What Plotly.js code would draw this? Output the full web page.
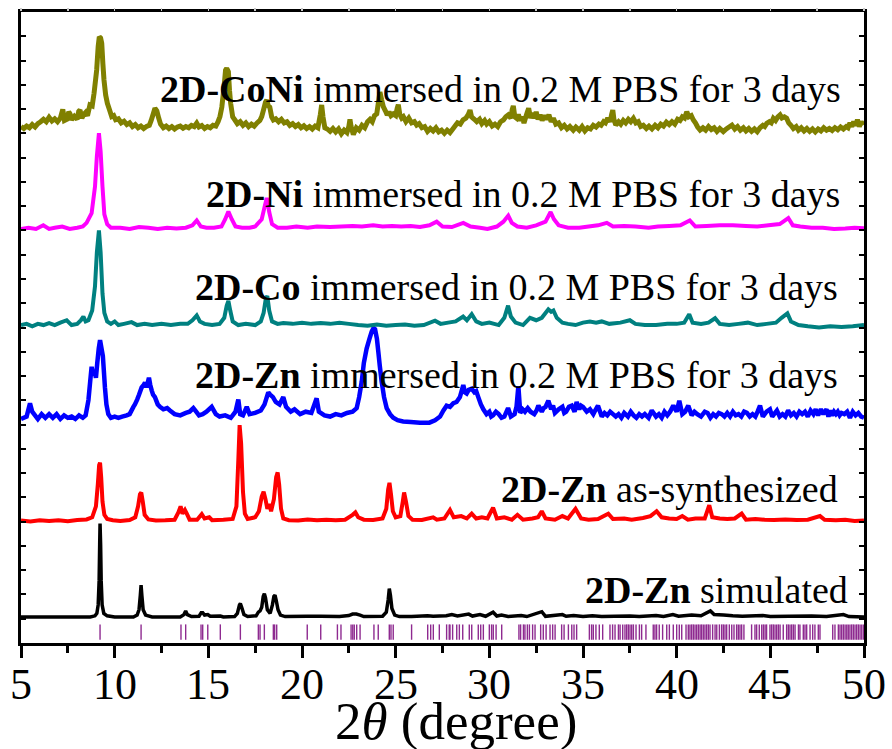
<!DOCTYPE html>
<html>
<head>
<meta charset="utf-8">
<script src="https://cdn.plot.ly/plotly-3.0.1.min.js"></script>
<style>html,body{margin:0;padding:0;background:#fff;}#chart{width:892px;height:749px;}</style>
</head>
<body>
<div id="chart"></div>
<script>
// ---- data (2theta in degrees, relative intensity) ----
const simX = [5,8.7,8.95,9.05,9.12,9.17,9.2,9.22,9.25,9.28,9.33,9.42,9.6,10.0,11.0,11.2,11.3,11.37,11.41,11.45,11.52,11.65,12.0,13.5,13.7,13.79,13.88,14.1,14.5,14.62,14.7,14.8,14.97,15.1,15.64,15.8,16.4,16.55,16.66,16.71,16.78,16.9,17.1,17.55,17.67,17.76,17.85,17.93,17.99,18.05,18.15,18.3,18.42,18.5,18.56,18.62,18.72,18.85,19.1,20.28,21.0,22.0,22.5,22.7,22.9,23.1,23.3,24.3,24.5,24.6,24.66,24.72,24.8,24.95,25.2,25.85,26.7,27.0,27.7,28.0,28.3,28.9,29.1,29.5,29.8,30.2,30.4,30.65,31.0,31.7,32.0,32.8,33.0,33.9,34.1,34.5,35.0,35.5,36.0,36.7,37.5,38.0,38.9,39.3,39.8,40.1,40.8,41.3,41.8,42.0,42.5,43.0,43.5,44.6,45.0,46.0,47.2,48.0,48.9,49.2,50];
const simY = [0,0,0.05,0.15,0.5,1.5,3.0,3.85,3.0,1.5,0.5,0.15,0.05,0,0,0.08,0.3,0.9,1.31,0.9,0.3,0.08,0,0,0.1,0.25,0.1,0.02,0.03,0.18,0.18,0.08,0.1,0.03,0.04,0,0.02,0.15,0.5,0.55,0.4,0.1,0.02,0.05,0.2,0.25,0.4,0.85,0.96,0.8,0.3,0.15,0.5,0.85,0.9,0.7,0.3,0.08,0.02,0.03,0.03,0.02,0.06,0.12,0.12,0.08,0.02,0.03,0.2,0.7,1.17,0.9,0.35,0.08,0.02,0.02,0.05,0.03,0.05,0.1,0.04,0.12,0.04,0.1,0.03,0.2,0.04,0.08,0.02,0.06,0.02,0.22,0.03,0.1,0.03,0.06,0.02,0.05,0.02,0.03,0.04,0.02,0.06,0.02,0.1,0.03,0.08,0.05,0.25,0.1,0.08,0.05,0.03,0.06,0.02,0.03,0.04,0.02,0.1,0.02,0];

const synX = [5,5.5,6.0,6.5,7.0,7.5,8.0,8.5,8.8,9.0,9.1,9.17,9.22,9.28,9.35,9.45,9.6,9.9,10.3,10.8,11.1,11.25,11.35,11.42,11.5,11.6,11.8,12.2,12.7,13.2,13.4,13.52,13.62,13.75,13.85,14.0,14.4,14.65,14.8,15.05,15.2,15.8,16.3,16.5,16.6,16.67,16.75,16.85,16.95,17.1,17.5,17.7,17.85,17.95,18.05,18.15,18.25,18.35,18.5,18.62,18.7,18.78,18.88,19.0,19.3,19.8,20.3,20.8,21.3,21.8,22.3,22.7,22.85,23.0,23.3,23.8,24.3,24.5,24.6,24.67,24.75,24.85,25.0,25.25,25.38,25.45,25.55,25.68,25.9,26.4,27.0,27.2,27.6,27.9,28.1,28.5,28.8,29.06,29.3,29.6,29.9,30.2,30.4,30.8,31.2,31.5,31.8,32.3,32.6,32.8,33.0,33.5,33.9,34.2,34.6,34.9,35.3,35.8,36.35,36.6,37.2,37.6,38.2,38.6,38.93,39.2,39.6,40.0,40.3,40.6,41.0,41.5,41.74,41.9,42.3,42.7,43.1,43.47,43.7,44.2,44.7,45.2,45.8,46.4,47.0,47.65,47.9,48.5,49.0,49.5,50];
const synY = [0.02,-0.02,0.03,0,0.03,-0.01,0.04,0.06,0.15,0.6,1.5,2.3,2.4,1.8,0.8,0.25,0.08,0.03,0,0.04,0.15,0.6,1.1,1.17,0.8,0.25,0.06,0.02,0.03,0.05,0.35,0.6,0.3,0.45,0.3,0.05,0.05,0.28,0.1,0.15,0.03,0.05,0.08,0.6,2.5,3.95,3.2,1.2,0.3,0.08,0.15,0.4,1.0,1.2,0.9,0.5,0.7,0.4,0.9,1.8,2.0,1.5,0.5,0.1,0.03,0.02,0.06,0.03,0.05,0.03,0.05,0.25,0.35,0.15,0.05,0.04,0.1,0.5,1.3,1.57,1.1,0.4,0.15,0.2,0.8,1.17,0.8,0.2,0.05,0.04,0.15,0.05,0.1,0.45,0.15,0.2,0.1,0.3,0.1,0.15,0.1,0.55,0.1,0.15,0.05,0.25,0.05,0.1,0.15,0.4,0.1,0.05,0.2,0.1,0.5,0.1,0.05,0.08,0.3,0.08,0.1,0.05,0.12,0.2,0.4,0.15,0.1,0.08,0.2,0.05,0.1,0.1,0.65,0.15,0.1,0.08,0.1,0.3,0.05,0.08,0.05,0.04,0.06,0.04,0.05,0.2,0.05,0.03,0.05,0,0.02];

const znX = [5.0,5.3,5.48,5.6,5.75,5.9,6.1,6.3,6.5,6.7, 6.9,7.1,7.3,7.5,7.7,7.9,8.1,8.3,8.45,8.6, 8.7,8.77,8.85,8.92,9.0,9.07,9.15,9.22,9.3,9.37, 9.43,9.48,9.56,9.66,9.8,10.0,10.2,10.4,10.64,10.8,
  11.0,11.08,11.2,11.3,11.44,11.55,11.62,11.7,11.83,11.9, 11.98,12.05,12.15,12.3,12.42,12.6,12.8,12.95,13.2,13.5, 13.8,14.0,14.2,14.35,14.5,14.7,14.9,15.18,15.4,15.6, 15.9,16.2,16.45,16.6,16.7,16.85,17.05,17.2,17.5,17.8,
  18.0,18.2,18.3,18.45,18.6,18.8,19.0,19.15,19.4,19.6, 19.9,20.2,20.5,20.78,20.9,21.2,21.5,21.8,22.1,22.4, 22.7,22.92,23.05,23.19,23.3,23.45,23.6,23.72,23.82,23.9, 24.0,24.07,24.15,24.25,24.38,24.52,24.7,24.87,25.1,25.4,
  25.8,26.3,26.8,27.1,27.37,27.55,27.72,27.9,28.08,28.25, 28.43,28.61,28.7,28.79,28.9,29.06,29.2,29.3,29.41,29.55, 29.68,29.85,
  30.0,30.1,30.2,30.35,30.5,30.65,30.8,31.0,31.15,31.35, 31.45,31.55,31.65,31.78,31.9,32.05,32.2,32.4,32.52,32.62, 32.8,32.9,33.0,33.15,33.3,33.4,33.5,33.7,33.9,34.0,
  34.1,34.25,34.4,34.55,34.66,34.8,34.9,35.0,35.2,35.37, 35.55,35.65,35.8,36.0,36.15,36.3,36.45,36.6,36.75,36.9, 37.05,37.2,37.4,37.55,37.7,37.85,38.0,38.15,38.3,38.5,
  38.67,38.9,39.05,39.2,39.35,39.5,39.65,39.82,40.0,40.14, 40.3,40.45,40.62,40.8,40.95,41.1,41.3,41.5,41.65,41.8, 41.95,42.1,42.25,42.4,42.55,42.7,42.85,43.0,43.15,43.3,
  43.45,43.6,43.75,43.9,44.05,44.2,44.32,44.45,44.6,44.8, 44.98,45.1,45.2,45.35,45.5,45.65,45.8,45.95,46.1,46.25, 46.4,46.55,46.7,46.85,47.0,47.15,47.3,47.42,47.55,47.7,
  47.83,48.0,48.1,48.2,48.3,48.4,48.5,48.6,48.7,48.8, 48.95,49.1,49.25,49.4,49.55,49.7,49.85,50];
const znY = [0.0,0.1,0.65,0.3,0.15,0.0,0.2,0.05,0.2,0.05, 0.2,0.0,0.15,0.05,0.1,0.0,0.15,0.05,0.15,0.78, 1.6,2.15,1.8,2.0,1.7,2.3,2.9,3.25,2.9,2.6, 1.9,1.3,0.6,0.2,0.05,0.1,0.05,0.1,0.15,0.2,
  0.5,0.6,0.8,1.0,1.3,1.4,1.5,1.3,1.7,1.4, 1.17,1.0,0.9,0.6,0.5,0.4,0.45,0.35,0.2,0.15, 0.25,0.3,0.45,0.3,0.15,0.2,0.3,0.5,0.2,0.1, 0.15,0.05,0.3,0.8,0.2,0.15,0.5,0.2,0.25,0.35,
  0.6,1.1,1.0,0.9,0.7,0.6,0.9,0.5,0.3,0.4, 0.2,0.3,0.25,0.85,0.3,0.15,0.1,0.2,0.15,0.25, 0.3,0.45,0.9,1.55,2.3,2.9,3.3,3.6,3.75,3.7, 3.3,2.8,2.2,1.55,0.9,0.45,0.2,0.05,-0.05,-0.1,
  -0.12,-0.15,-0.15,-0.05,0.1,0.35,0.55,0.5,0.65,0.7, 0.9,1.4,1.1,1.05,1.2,1.25,1.1,1.15,0.9,0.6, 0.4,0.2,
  0.3,0.1,0.15,0.3,0.2,0.05,0.1,0.45,0.1,0.2, 0.5,1.35,0.25,0.4,0.3,0.45,0.3,0.2,0.35,0.55, 0.3,0.45,0.5,0.75,0.4,0.55,0.25,0.4,0.5,0.25,
  0.3,0.5,0.55,0.3,0.7,0.4,0.55,0.5,0.3,0.4, 0.2,0.35,0.55,0.1,0.25,0.15,0.3,0.2,0.1,0.2, 0.05,0.25,0.1,0.3,0.15,0.05,0.2,0.1,0.2,0.05,
  0.35,0.1,0.2,0.05,0.3,0.15,0.3,0.55,0.3,0.75, 0.2,0.3,0.55,0.15,0.3,0.2,0.1,0.3,0.25,0.05, 0.2,0.1,0.25,0.2,0.1,0.25,0.1,0.3,0.15,0.2,
  0.1,0.3,0.25,0.1,0.2,0.1,0.3,0.55,0.1,0.3, 0.4,0.1,0.2,0.35,0.1,0.2,0.1,0.35,0.15,0.25, 0.1,0.3,0.2,0.3,0.1,0.35,0.2,0.4,0.15,0.4,
  0.2,0.4,0.1,0.35,0.15,0.3,0.2,0.3,0.15,0.25, 0.2,0.3,0.05,0.3,0.15,0.25,0.1,0.05];

const coX = [5.0,5.3,5.6,5.9,6.2,6.5,6.8,7.1,7.44,7.7,8.0,8.2,8.33,8.45,8.6,8.8,8.95,9.05,9.16,9.25,9.35,9.45,9.6,9.8,10.0,10.2,10.5,10.9,11.2,11.6,12.0,12.5,13.0,13.5,13.9,14.15,14.38,14.55,14.8,15.2,15.6,15.85,15.98,16.07,16.17,16.3,16.6,17.0,17.5,17.8,17.95,18.07,18.15,18.25,18.4,18.7,19.0,19.5,20.0,20.5,21.0,21.5,22.0,22.5,23.0,23.5,24.0,24.5,25.0,25.5,26.0,26.5,27.1,27.4,27.8,28.2,28.6,28.8,29.06,29.3,29.6,30.0,30.5,30.8,31.0,31.15,31.4,31.8,32.17,32.5,32.8,33.0,33.15,33.3,33.42,33.6,33.9,34.2,34.6,35.0,35.37,35.7,36.0,36.4,37.0,37.5,37.8,38.3,38.9,39.5,40.0,40.4,40.67,40.85,41.3,41.7,42.05,42.3,42.8,43.3,43.8,44.3,44.8,45.3,45.6,45.91,46.1,46.5,47.0,47.6,48.2,48.8,49.4,50];
const coY = [0.0,0.05,-0.05,0.05,0.0,0.08,0.0,0.1,0.2,0.0,0.05,0.2,0.35,0.15,0.2,0.6,1.6,3.0,3.9,3.0,1.3,0.5,0.15,0.05,0.15,0.0,0.05,0.12,0.0,0.05,0.0,0.05,0.0,0.05,0.05,0.2,0.4,0.15,0.05,0.0,0.05,0.3,0.8,1.0,0.6,0.15,0.0,0.05,0.0,0.15,0.5,1.1,1.2,0.6,0.15,0.05,0.08,0.05,0.1,0.05,0.08,0.05,0.1,0.05,0.0,-0.03,0.02,-0.03,0.0,0.02,-0.03,0.0,0.18,0.05,0.1,0.15,0.35,0.2,0.45,0.15,0.05,0.1,0.0,0.3,0.8,0.35,0.1,0.0,0.3,0.2,0.3,0.5,0.65,0.55,0.6,0.3,0.1,0.05,0.0,0.1,0.15,0.1,0.15,0.05,0.1,0.2,0.05,0.0,0.0,0.05,0.05,0.1,0.45,0.1,0.05,0.1,0.28,0.05,0.0,0.05,0.1,0.0,0.05,0.1,0.3,0.48,0.15,0.0,-0.05,-0.1,-0.05,-0.08,-0.05,0.0];

const niX = [5.0,5.4,5.8,6.19,6.5,6.8,7.2,7.6,8.0,8.3,8.5,8.77,8.95,9.05,9.16,9.25,9.35,9.45,9.6,9.8,10.3,10.8,11.3,11.8,12.3,12.8,13.3,13.8,14.15,14.38,14.6,14.9,15.3,15.7,15.9,16.07,16.25,16.45,16.8,17.2,17.5,17.85,18.0,18.12,18.25,18.4,18.7,19.2,19.7,20.3,20.8,21.5,22.1,22.7,23.2,23.8,24.3,24.8,25.3,25.8,26.3,26.8,27.19,27.5,28.0,28.61,29.0,29.5,29.9,30.4,30.75,31.01,31.2,31.5,32.0,32.5,33.0,33.27,33.45,33.7,34.2,34.8,35.3,35.8,36.27,36.6,37.2,37.8,38.5,39.0,39.6,40.2,40.7,41.0,41.6,42.3,43.0,43.7,44.3,44.9,45.5,45.96,46.2,46.6,47.2,47.8,48.4,49.0,49.5,50];
const niY = [0.0,0.05,0.0,0.15,0.0,0.05,0.1,0.0,0.05,0.1,0.25,0.65,1.75,3.0,3.95,3.2,1.75,0.6,0.2,0.05,0.05,0.0,0.08,0.05,0.0,0.05,0.02,0.05,0.15,0.35,0.1,0.05,0.05,0.1,0.4,0.72,0.4,0.1,0.05,0.05,0.1,0.4,0.9,1.28,0.7,0.2,0.05,0.05,0.1,0.05,0.1,0.08,0.1,0.12,0.1,0.15,0.1,0.12,0.1,0.12,0.08,0.15,0.3,0.1,0.08,0.25,0.1,0.05,0.0,0.1,0.3,0.55,0.25,0.1,0.05,0.15,0.3,0.7,0.4,0.15,0.05,0.05,0.1,0.15,0.25,0.1,0.12,0.1,0.05,0.1,0.12,0.15,0.35,0.1,0.12,0.15,0.15,0.12,0.1,0.15,0.2,0.45,0.15,0.1,0.05,0.05,0.0,0.02,0.05,0.03];

const coniX = [5.0,5.15,5.3,5.45,5.6,5.75,5.9,6.05,6.2,6.35,6.5,6.65,6.8,6.95,7.1,7.23,7.32,7.45,7.55,7.62,7.7,7.85,8.0,8.08,8.15,8.25,8.35,8.45,8.55,8.68,8.8,8.9,9.04,9.12,9.18,9.25,9.31,9.37,9.43,9.52,9.61,9.72,9.84,9.95,10.05,10.2,10.35,10.5,10.65,10.8,10.95,11.1,11.25,11.4,11.55,11.7,11.85,11.95,12.05,12.15,12.25,12.35,12.45,12.6,12.75,12.9,13.05,13.2,13.35,13.5,13.65,13.8,13.95,14.1,14.25,14.38,14.5,14.65,14.8,14.95,15.1,15.25,15.4,15.52,15.62,15.72,15.84,15.92,15.98,16.07,16.13,16.19,16.3,16.42,16.55,16.7,16.85,17.0,17.15,17.3,17.45,17.6,17.75,17.85,17.95,18.05,18.12,18.2,18.28,18.38,18.47,18.6,18.75,18.9,19.05,19.2,19.35,19.5,19.65,19.8,19.95,20.1,20.25,20.4,20.55,20.7,20.85,20.98,21.05,21.12,21.22,21.35,21.5,21.65,21.8,21.95,22.1,22.25,22.4,22.5,22.56,22.62,22.74,22.9,23.05,23.2,23.35,23.5,23.63,23.75,23.87,23.99,24.08,24.16,24.25,24.34,24.45,24.55,24.65,24.75,24.87,25.0,25.08,25.14,25.22,25.32,25.41,25.55,25.7,25.85,26.0,26.12,26.25,26.4,26.55,26.7,26.85,27.0,27.15,27.3,27.45,27.6,27.75,27.9,28.05,28.2,28.3,28.45,28.6,28.75,28.88,28.97,29.05,29.2,29.33,29.48,29.6,29.75,29.86,30.0,30.15,30.3,30.45,30.6,30.75,30.88,31.01,31.15,31.22,31.28,31.36,31.46,31.55,31.65,31.75,31.85,31.95,32.03,32.1,32.2,32.3,32.4,32.5,32.6,32.71,32.82,32.95,33.06,33.18,33.3,33.42,33.55,33.7,33.85,34.0,34.15,34.3,34.48,34.62,34.8,34.95,35.1,35.25,35.4,35.55,35.7,35.85,35.97,36.1,36.2,36.32,36.45,36.53,36.59,36.65,36.75,36.9,37.02,37.15,37.28,37.42,37.55,37.69,37.82,37.95,38.08,38.22,38.38,38.52,38.68,38.85,39.0,39.15,39.3,39.45,39.6,39.75,39.9,40.05,40.18,40.3,40.42,40.54,40.65,40.78,40.89,41.0,41.12,41.25,41.4,41.55,41.7,41.85,42.0,42.15,42.3,42.49,42.65,42.8,42.95,43.1,43.25,43.4,43.56,43.7,43.85,44.0,44.15,44.3,44.45,44.6,44.7,44.81,44.95,45.05,45.16,45.28,45.4,45.52,45.62,45.75,45.87,45.98,46.1,46.23,46.38,46.5,46.65,46.8,46.95,47.1,47.25,47.4,47.55,47.7,47.85,48.0,48.15,48.3,48.45,48.6,48.75,48.9,49.05,49.15,49.25,49.35,49.45,49.55,49.65,49.75,49.85,49.96];
const coniY = [0.10,0.02,0.12,0.05,0.18,0.08,0.22,0.30,0.40,0.30,0.48,0.33,0.42,0.30,0.45,0.81,0.35,0.40,0.70,0.62,0.38,0.52,0.40,0.72,0.78,0.45,0.60,0.68,0.55,0.99,0.95,1.47,2.43,3.4,3.8,3.75,3.53,2.7,2.02,1.4,1.06,0.8,0.51,0.55,0.38,0.42,0.25,0.32,0.18,0.25,0.10,0.18,0.05,0.12,0.02,0.10,0.15,0.35,0.6,0.85,0.75,0.45,0.2,0.05,0.12,0.02,0.10,0.0,0.08,0.12,0.03,0.10,0.05,0.15,0.10,0.24,0.08,0.14,0.02,0.10,0.05,0.15,0.12,0.3,0.51,0.9,1.74,2.43,2.5,2.36,1.6,1.06,0.5,0.37,0.22,0.30,0.15,0.25,0.10,0.20,0.12,0.25,0.35,0.51,0.8,1.1,1.19,0.95,0.9,0.5,0.37,0.42,0.30,0.40,0.25,0.30,0.15,0.22,0.10,0.18,0.05,0.13,0.02,0.10,0.0,0.12,0.05,0.6,0.99,0.5,0.05,0.0,-0.1,0.02,-0.12,0.0,-0.2,-0.05,-0.15,0.1,0.4,0.1,-0.23,0.05,-0.05,0.15,0.05,0.3,0.4,0.3,0.55,0.62,1.1,1.52,1.2,0.92,0.75,0.58,0.7,0.55,0.62,0.55,0.85,1.0,0.6,0.45,0.51,0.3,0.45,0.25,0.3,0.16,0.22,0.05,0.1,-0.1,0.02,-0.08,0.05,-0.12,-0.05,-0.18,-0.05,-0.15,0.0,0.15,0.25,0.2,0.38,0.45,0.6,0.78,0.5,0.4,0.3,0.4,0.22,0.35,0.2,0.3,0.12,0.2,0.1,0.3,0.37,0.5,0.58,0.45,0.8,0.95,0.5,0.44,0.6,0.35,0.5,0.25,0.5,0.7,0.85,0.45,0.65,0.45,0.7,0.4,0.58,0.35,0.55,0.4,0.58,0.3,0.44,0.2,0.25,0.05,0.15,0.0,0.1,-0.05,0.08,-0.05,0.1,-0.08,0.05,0.0,0.15,0.08,0.2,0.15,0.3,0.25,0.45,0.3,0.6,0.78,0.4,0.16,0.3,0.2,0.35,0.25,0.4,0.3,0.44,0.25,0.3,0.1,0.15,0.02,0.12,0.0,0.15,0.05,0.2,0.12,0.28,0.18,0.3,0.2,0.4,0.35,0.5,0.45,0.71,0.5,0.55,0.37,0.25,0.08,-0.04,0.05,-0.05,0.1,-0.02,0.05,-0.1,0.02,-0.11,0.0,0.08,0.16,0.0,0.1,-0.05,0.05,-0.08,0.02,-0.1,0.0,-0.11,0.05,0.15,0.1,0.23,0.3,0.25,0.44,0.35,0.5,0.58,0.45,0.5,0.44,0.25,0.15,0.02,0.1,-0.05,0.05,-0.08,0.02,-0.1,0.0,-0.12,0.0,-0.08,0.05,-0.05,0.02,-0.06,0.05,-0.03,0.08,0.0,0.1,0.05,0.25,0.1,0.3,0.15,0.38,0.1,0.3,0.16];

// Calculated Bragg reflection positions (2theta, degrees)
const braggX = [9.22,11.41,13.54,13.79,14.61,14.70,14.97,15.64,16.71,17.67,17.76,17.99,18.47,18.54,18.65,20.28,21.00,21.89,22.08,22.62,22.71,22.79,22.92,23.10,23.84,24.07,24.66,24.75,24.87,25.85,26.71,26.87,27.01,27.33,27.72,27.86,
27.90,28.04,28.26,28.40,28.58,28.93,29.06,29.41,29.54,29.68,30.00,30.12,30.21,30.36,30.66,
31.58,31.67,31.82,31.90,32.03,32.14,32.31,32.44,32.74,32.88,33.03,33.24,33.38,33.51,33.86,33.99,34.22,34.40,34.52,34.66,
35.34,35.46,35.55,35.69,35.87,36.05,
36.44,36.58,36.71,36.89,36.98,37.12,37.24,37.33,37.42,37.51,37.60,37.69,37.83,38.01,38.13,38.36,
38.75,38.84,38.93,39.07,39.25,39.47,39.61,39.82,40.00,40.14,40.27,40.50,40.62,40.71,40.80,40.89,40.98,41.07,41.16,41.25,41.33,41.42,41.51,41.60,41.69,41.78,41.92,42.05,42.14,42.28,42.40,42.49,42.58,42.67,42.81,42.94,43.06,43.20,43.29,43.38,43.47,43.59,
44.00,44.18,44.27,44.41,44.54,44.63,44.72,44.80,44.98,45.07,45.16,45.25,45.34,45.43,45.52,45.69,45.87,45.96,46.05,46.14,46.23,46.32,46.50,46.58,46.76,46.85,46.94,47.12,47.26,47.38,47.56,47.65,
48.33,48.45,48.63,48.72,48.81,48.90,48.99,49.08,49.16,49.25,49.34,49.43,49.52,49.61,49.70,49.79,49.88,49.97];

const seriesNames = ['2D-Zn simulated','2D-Zn as-synthesized','2D-Zn immersed','2D-Co immersed','2D-Ni immersed','2D-CoNi immersed'];
const labels = [
  '<b>2D-Zn</b> simulated',
  '<b>2D-Zn</b> as-synthesized',
  '<b>2D-Zn</b> immersed in 0.2 M PBS for 3 days',
  '<b>2D-Co</b> immersed in 0.2 M PBS for 3 days',
  '<b>2D-Ni</b> immersed in 0.2 M PBS for 3 days',
  '<b>2D-CoNi</b> immersed in 0.2 M PBS for 3 days'
];
const xTickVals = [5,10,15,20,25,30,35,40,45,50];
const xTickText = ['5','10','15','20','25','30','35','40','45','50'];
const xTitle = '2<i>θ</i> (degree)';

// ---- styling / stacking ----
const offsets = [1.07, 5.03, 9.23, 13.10, 17.06, 21.18];
const colors = ['#000000','#FF0000','#0000FF','#008080','#FF00FF','#808000'];
const widths = [3.5, 4, 4.5, 4, 4, 5];
const labelY = [2.17, 6.36, 11.03, 14.67, 18.51, 22.84];
const labelX = [49.25, 48.7, 48.7, 48.7, 48.8, 48.9];
const xs = [simX, synX, znX, coX, niX, coniX];
const ys = [simY, synY, znY, coY, niY, coniY];

const font = '"Liberation Serif","Times New Roman",Times,serif';
const traces = [];
for (let i = 0; i < xs.length; i++) {
  traces.push({
    type: 'scatter', mode: 'lines', name: seriesNames[i],
    x: xs[i], y: ys[i].map(v => v + offsets[i]),
    line: {color: colors[i], width: widths[i], simplify: false},
    hoverinfo: 'skip'
  });
}
traces.push({
  type: 'scatter', mode: 'markers', name: 'Bragg positions',
  x: braggX, y: braggX.map(() => 0.45),
  marker: {symbol: 'line-ns', size: 11, color: '#8B1A8B', line: {color: '#8E2A90', width: 1.4}},
  hoverinfo: 'skip'
});
// top axis (faint minor ticks)
traces.push({type: 'scatter', mode: 'markers', x: [5], y: [0], xaxis: 'x2', marker: {opacity: 0}, hoverinfo: 'skip'});

const annotations = labels.map((t, i) => ({
  text: t, x: labelX[i], y: labelY[i], xref: 'x', yref: 'y',
  xanchor: 'right', yanchor: 'middle', showarrow: false,
  font: {family: font, size: 38, color: '#000'}
}));
// x tick labels (drawn as text so they can sit close to the ticks)
xTickVals.forEach((v, i) => annotations.push({
  text: xTickText[i], x: v, y: -0.066, xref: 'x', yref: 'paper',
  xanchor: 'center', yanchor: 'middle', showarrow: false,
  font: {family: font, size: 44, color: '#000'}
}));
annotations.push({
  text: xTitle, xref: 'paper', yref: 'paper', x: 0.516, y: -0.124,
  xanchor: 'center', yanchor: 'middle', showarrow: false,
  font: {family: font, size: 53, color: '#000'}
});

const layout = {
  width: 892, height: 749,
  margin: {l: 21, r: 28, t: 12, b: 106},
  paper_bgcolor: '#fff', plot_bgcolor: '#fff',
  showlegend: false,
  font: {family: font, color: '#000'},
  xaxis: {
    range: [5, 50], tickvals: xTickVals, ticks: 'outside', ticklen: 12, tickwidth: 3, tickcolor: '#000',
    minor: {dtick: 2.5, tick0: 5, ticks: 'outside', ticklen: 7, tickwidth: 3, tickcolor: '#000'},
    showline: true, linewidth: 3, linecolor: '#000', mirror: true,
    showgrid: false, zeroline: false, showticklabels: false,
    automargin: false
  },
  xaxis2: {
    range: [5, 50], overlaying: 'x', side: 'top', anchor: 'y', dtick: 2.5, tick0: 5,
    ticks: 'outside', ticklen: 3, tickwidth: 1.5, tickcolor: '#c8c8c8',
    showticklabels: false, showgrid: false, zeroline: false, showline: false
  },
  yaxis: {
    range: [0, 26], dtick: 1, tick0: 0, ticks: 'inside', ticklen: 5, tickwidth: 2, tickcolor: '#000',
    showticklabels: false, showline: true, linewidth: 3, linecolor: '#000', mirror: 'ticks',
    showgrid: false, zeroline: false, automargin: false
  },
  annotations: annotations
};

Plotly.newPlot('chart', traces, layout, {displayModeBar: false, staticPlot: true});
</script>
</body>
</html>
